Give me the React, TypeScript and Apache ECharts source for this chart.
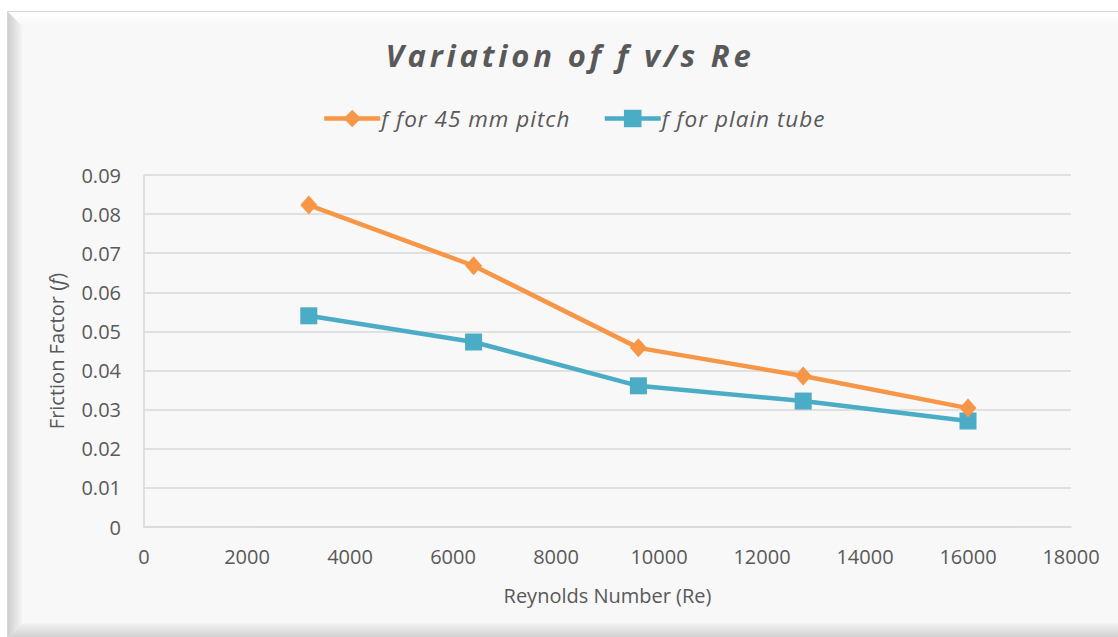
import React, { useEffect, useRef } from "react";
import * as echarts from "echarts";

const reynolds = [3200, 6400, 9600, 12800, 16000];
const fPitch45 = [0.0823, 0.0668, 0.0458, 0.0386, 0.0304];
const fPlain = [0.054, 0.0473, 0.0361, 0.0322, 0.0271];
const seriesNames = ["f for 45 mm pitch", "f for plain tube"];
const titleText = "Variation of f v/s Re";
const xAxisTitle = "Reynolds Number (Re)";

const FONT = "'Open Sans', 'Noto Sans', sans-serif";

export default function App() {
  const ref = useRef<HTMLDivElement>(null);
  useEffect(() => {
    if (!ref.current) return;
    const chart = echarts.init(ref.current, null, { renderer: "svg" });
    const option: any = {
      animation: false,
      backgroundColor: "#ffffff",
      graphic: [
        {
          type: "rect",
          shape: { x: 7.5, y: 11.5, width: 1120, height: 640 },
          style: { fill: "#f8f8f8", stroke: "#d6d6d6", lineWidth: 1 },
          z: -10,
        },
        {
          type: "polygon",
          shape: { points: [[8, 12], [1118, 12], [1118, 26], [22, 26]] },
          style: {
            fill: new echarts.graphic.LinearGradient(0, 0, 0, 1, [
              { offset: 0, color: "#ffffff" },
              { offset: 1, color: "#f7f7f7" },
            ]),
          },
          z: -9,
        },
        {
          type: "polygon",
          shape: { points: [[8, 12], [22, 26], [22, 623], [8, 637]] },
          style: {
            fill: new echarts.graphic.LinearGradient(0, 0, 1, 0, [
              { offset: 0, color: "#cfcfcf" },
              { offset: 1, color: "#f4f4f4" },
            ]),
          },
          z: -8,
        },
        {
          type: "polygon",
          shape: { points: [[8, 637], [22, 623], [1118, 623], [1118, 637]] },
          style: {
            fill: new echarts.graphic.LinearGradient(0, 0, 0, 1, [
              { offset: 0, color: "#f3f3f3" },
              { offset: 1, color: "#d2d2d2" },
            ]),
          },
          z: -8,
        },
        {
          type: "text",
          x: 570,
          y: 55,
          style: {
            text: titleText,
            font: `italic bold 31px ${FONT}`,
            fill: "#595959",
            textAlign: "center",
            textVerticalAlign: "middle",
          },
        },
      ],
      legend: {
        left: 317,
        top: 102,
        itemWidth: 56,
        itemHeight: 22,
        itemGap: 49,
        lineStyle: { width: 4.5 },
        textStyle: {
          fontFamily: FONT,
          fontStyle: "italic",
          fontSize: 22.5,
          color: "#595959",
          padding: [0, 0, 0, -4],
        },
        data: seriesNames,
      },
      grid: { left: 144, right: 47, top: 175, bottom: 110, containLabel: false },
      xAxis: {
        type: "value",
        min: 0,
        max: 18000,
        interval: 2000,
        name: xAxisTitle,
        nameLocation: "middle",
        nameGap: 58,
        nameTextStyle: { fontFamily: FONT, fontSize: 20, color: "#595959" },
        axisLine: { show: true, lineStyle: { color: "#d9d9d9", width: 1.5 } },
        axisTick: { show: false },
        splitLine: { show: false },
        axisLabel: {
          fontFamily: FONT,
          fontSize: 20,
          color: "#595959",
          margin: 19,
          formatter: (v: number) => String(v),
        },
      },
      yAxis: {
        type: "value",
        min: 0,
        max: 0.09,
        interval: 0.01,
        name: "{n|Friction Factor (}{i|f}{n|)}",
        nameLocation: "middle",
        nameGap: 78,
        nameRotate: 90,
        nameTextStyle: {
          rich: {
            n: { fontFamily: FONT, fontSize: 20, color: "#595959" },
            i: { fontFamily: FONT, fontSize: 20, color: "#595959", fontStyle: "italic" },
          },
        },
        axisLine: { show: true, lineStyle: { color: "#d9d9d9", width: 1.5 } },
        axisTick: { show: false },
        splitLine: { show: true, lineStyle: { color: "#d9d9d9", width: 1.5 } },
        axisLabel: {
          fontFamily: FONT,
          fontSize: 20,
          color: "#595959",
          margin: 23,
          formatter: (v: number) => (v === 0 ? "0" : v.toFixed(2)),
        },
      },
      series: [
        {
          name: seriesNames[0],
          type: "line",
          data: reynolds.map((x, i) => [x, fPitch45[i]]),
          symbol: "diamond",
          symbolSize: [17, 19],
          lineStyle: { color: "#f79646", width: 4.5 },
          itemStyle: { color: "#f79646" },
          z: 3,
        },
        {
          name: seriesNames[1],
          type: "line",
          data: reynolds.map((x, i) => [x, fPlain[i]]),
          symbol: "rect",
          symbolSize: 17,
          lineStyle: { color: "#4bacc6", width: 4.5 },
          itemStyle: { color: "#4bacc6" },
          z: 2,
        },
      ],
    };
    chart.setOption(option);
    const texts = ref.current.querySelectorAll("text");
    texts.forEach((t) => {
      if (t.textContent === titleText) {
        (t as SVGTextElement).style.letterSpacing = "3.8px";
      } else if (seriesNames.indexOf(t.textContent || "") >= 0) {
        (t as SVGTextElement).style.letterSpacing = "1px";
      }
    });
    return () => chart.dispose();
  }, []);
  return (
    <div
      ref={ref}
      style={{ position: "fixed", left: 0, top: 0, width: 1118, height: 637 }}
    />
  );
}
